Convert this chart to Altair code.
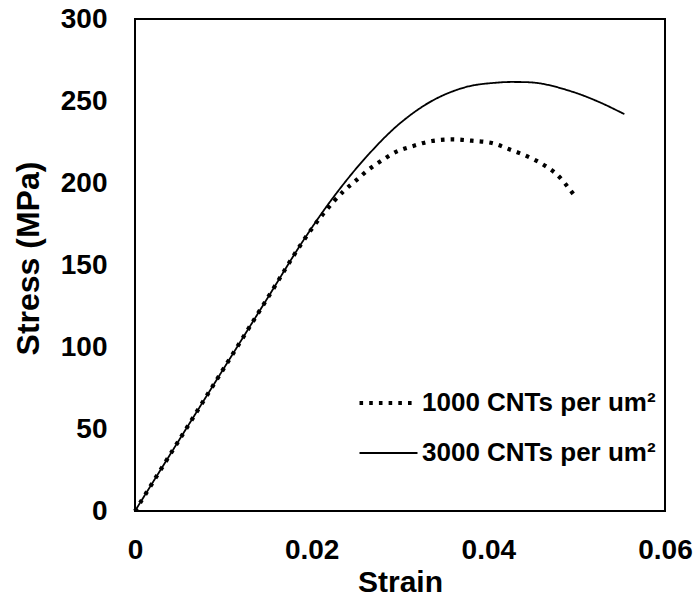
import altair as alt
import pandas as pd

SERIES = ["1000 CNTs per um²", "3000 CNTs per um²"]

strain_1000 = [0, 0.005, 0.010, 0.015, 0.019, 0.0215, 0.0236, 0.0249, 0.0264, 0.0279,
               0.0296, 0.0315, 0.0336, 0.0359, 0.0381, 0.0404, 0.0423, 0.0443, 0.0461,
               0.0477, 0.0490, 0.0497]
stress_1000 = [0, 43.3, 86.5, 129.8, 164.3, 182.5, 195.0, 201.0, 208.0, 213.6,
               219.1, 222.6, 225.6, 226.6, 225.8, 224.4, 220.7, 216.5, 211.6,
               205.5, 197.6, 192.7]

strain_3000 = [0, 0.005, 0.010, 0.015, 0.019, 0.0225, 0.0262, 0.0300, 0.0338, 0.0376,
               0.0410, 0.0430, 0.0458, 0.0496, 0.0527, 0.0554]
stress_3000 = [0, 43.3, 86.5, 129.8, 164.5, 191.6, 216.0, 236.4, 250.6, 258.7,
               261.2, 261.6, 260.8, 255.5, 249.0, 242.0]

x_ticks = [0, 0.02, 0.04, 0.06]
y_ticks = [0, 50, 100, 150, 200, 250, 300]

rows = []
for s, e in zip(strain_1000, stress_1000):
    rows.append({"series": SERIES[0], "strain": s, "stress": e})
for s, e in zip(strain_3000, stress_3000):
    rows.append({"series": SERIES[1], "strain": s, "stress": e})
df = pd.DataFrame(rows)

FONT = "Liberation Sans"

x_enc = alt.X(
    "strain:Q",
    scale=alt.Scale(domain=[0, 0.06], nice=False),
    axis=alt.Axis(
        values=x_ticks, format="~g", title="Strain", labelFlush=False,
        labelPadding=25, titleX=265, titleY=80, titleBaseline="alphabetic",
        titleFontSize=30,
    ),
)
y_enc = alt.Y(
    "stress:Q",
    scale=alt.Scale(domain=[0, 300], nice=False),
    axis=alt.Axis(
        values=y_ticks, title="Stress (MPa)", labelFlush=False,
        labelPadding=28, titleX=-97, titleY=239, titleBaseline="alphabetic",
        titleFontSize=32,
    ),
)


def series_legend():
    return alt.Legend(
        title=None, orient="none", legendX=222, legendY=371,
        symbolType="stroke", symbolSize=3364,
        symbolStrokeColor="black", symbolOffset=0,
        labelFont=FONT, labelFontSize=26, labelFontWeight="bold",
        labelColor="black", labelOffset=2, labelLimit=400,
        clipHeight=26, rowPadding=24, padding=0,
    )


lines = alt.Chart(df).mark_line(
    strokeCap="butt", strokeJoin="round", interpolate="catmull-rom"
).encode(
    x=x_enc,
    y=y_enc,
    strokeDash=alt.StrokeDash(
        "series:N",
        scale=alt.Scale(domain=SERIES, range=[[3.6, 6.1], [1, 0]]),
        legend=series_legend(),
    ),
    strokeWidth=alt.StrokeWidth(
        "series:N",
        scale=alt.Scale(domain=SERIES, range=[4.2, 1.8]),
        legend=series_legend(),
    ),
    color=alt.value("black"),
)

chart = lines.properties(
    width=530,
    height=492,
    padding={"left": 135, "top": 19, "right": 32, "bottom": 87},
    autosize=alt.AutoSizeParams(type="none"),
).configure_view(
    stroke="black", strokeWidth=2
).configure_axis(
    grid=False, domain=False, ticks=False,
    labelFont=FONT, labelFontSize=28, labelFontWeight="bold", labelColor="black",
    titleFont=FONT, titleFontWeight="bold", titleColor="black",
)

chart.save("out.html", embed_options={"renderer": "svg", "actions": False})
